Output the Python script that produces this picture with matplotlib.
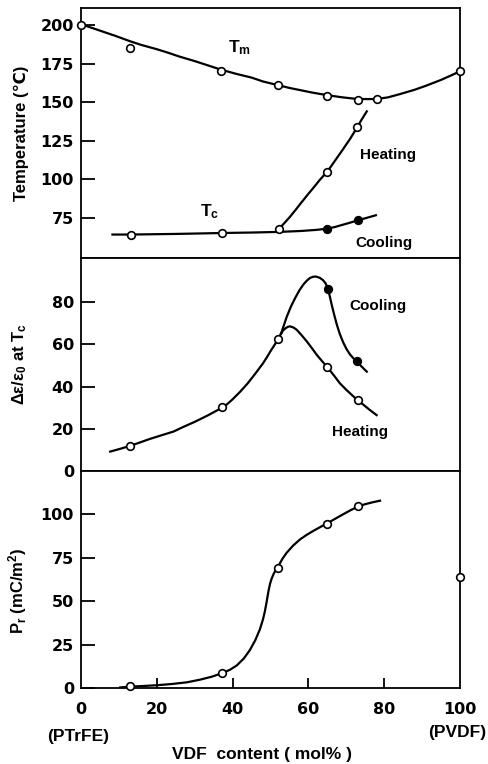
import matplotlib
matplotlib.use('Agg')
import matplotlib.pyplot as plt

plt.rcParams['font.family'] = ['Liberation Sans', 'DejaVu Sans']
plt.rcParams['font.weight'] = 'bold'
plt.rcParams['mathtext.fontset'] = 'custom'
plt.rcParams['mathtext.rm'] = 'Liberation Sans:bold'
plt.rcParams['mathtext.it'] = 'Liberation Sans:bold:italic'
plt.rcParams['mathtext.bf'] = 'Liberation Sans:bold'

# ---- top panel: transition temperatures ----
tm_x = [0, 12.9, 37, 52, 65, 73, 78, 100]
tm_y = [200, 185, 170, 161, 154, 151.5, 152, 170]
tm_line_x = [0, 3, 6, 9, 12.9, 16, 20, 23, 26, 30, 33, 37, 41, 45, 48, 52, 55, 58, 61, 65,
             69, 73, 78, 81, 84, 88, 91, 95, 98, 100]
tm_line_y = [200.5, 198, 195.5, 193, 189.5, 187, 184.3, 182, 179.5, 176.6, 174.2, 171, 168.3,
             165.9, 163.4, 161, 159.2, 157.7, 156.2, 154.5, 153.1, 152, 152, 153.1, 155.1, 158,
             160.6, 164.4, 167.7, 170]

tc_heat_x = [13.1, 37.3, 52.2, 65, 72.9]
tc_heat_y = [64.2, 65.3, 67.8, 105, 133.8]
tc_cool_x = [65, 73]
tc_cool_y = [68, 73.4]
tc_low_x = [8.3, 13.1, 25, 37.3, 45, 52.2, 58, 62, 65, 67, 69, 71, 73, 75.5, 77.8]
tc_low_y = [64.2, 64.2, 64.6, 65.2, 65.5, 65.9, 66.5, 67.2, 68, 69.1, 70.5, 71.9, 73.4, 75.1, 76.7]
tc_up_x = [52.2, 53.5, 55, 56.5, 58, 60, 61.5, 63, 65, 67, 69, 71, 72.9, 74, 75.4]
tc_up_y = [67.8, 71.2, 75.3, 79.8, 84.5, 90.6, 95, 99.6, 105, 112, 119, 126.2, 133.8, 138.5, 144]

# ---- middle panel: dielectric anomaly ----
de_heat_x = [12.9, 37.1, 52.1, 65, 73]
de_heat_y = [11.9, 30.2, 62.4, 49.2, 33.5]
de_cool_x = [65.1, 72.8]
de_cool_y = [86.5, 52.3]
de_low_x = [7.7, 10.3, 12.9, 15.5, 18, 21, 24.4, 27, 30, 33.5, 37.1, 38.5, 40, 42, 44, 46, 48,
            49, 50, 51, 52.1, 52.8]
de_low_y = [9.2, 10.5, 11.9, 13.5, 15.1, 16.8, 18.7, 20.9, 23.3, 26.4, 29.9, 31.6, 34.0, 37.6,
            41.6, 46.2, 51.0, 53.8, 56.8, 59.6, 62.8, 65.2]
de_cline_x = [52.8, 53.4, 54.3, 55.4, 56.5, 57.6, 58.7, 59.6, 60.4, 61.2, 62, 63, 63.8, 64.5,
              65.1, 65.6, 66.1, 66.8, 67.5, 68.3, 69.2, 70.1, 71, 71.9, 72.7, 74, 75.4]
de_cline_y = [65.2, 68.4, 73.2, 78.0, 82.0, 85.6, 88.5, 90.3, 91.5, 92.1, 92.2, 91.6, 90.6, 89.1,
              86.7, 83.2, 79.2, 74.1, 69.4, 64.9, 60.9, 57.7, 55.2, 53.4, 52, 49.6, 47.1]
de_hline_x = [52.8, 53.3, 53.9, 54.5, 55.1, 56, 56.9, 58.2, 59.6, 60.9, 62.2, 63.6, 65.1, 66.7,
              68.3, 70, 71.5, 72.9, 74.6, 76.3, 78]
de_hline_y = [65.2, 66.6, 67.6, 68.3, 68.6, 68.1, 67, 64.4, 61.4, 58.3, 55.1, 52.1, 49, 45.4,
              41.6, 38.5, 36, 33.7, 31.3, 28.8, 26.5]

# ---- bottom panel: remanent polarization ----
pr_x = [12.9, 37.2, 52.1, 65, 73.2, 100]
pr_y = [1.2, 8.8, 69.3, 94.5, 104.8, 64]
pr_line_x = [10.3, 12.9, 16, 20, 24, 28, 31.4, 34.5, 37.2, 39.3, 41.1, 43, 44.6, 46, 47.2, 48,
             48.5, 48.9, 49.2, 49.5, 49.9, 50.3, 50.8, 51.4, 52.1, 53.2, 54.3, 56, 57.8, 59.6,
             61.3, 63.2, 65, 67, 69.2, 71.2, 73.2, 75, 77, 78.9]
pr_line_y = [0.3, 0.8, 1.1, 1.6, 2.3, 3.3, 4.8, 6.5, 8.5, 10.5, 13.0, 17.1, 22.0, 27.6, 33.8,
             39.4, 44.0, 48.6, 52.5, 56.2, 60.2, 63.0, 65.6, 68.1, 70.4, 74.6, 78.0, 82.1, 85.6,
             88.3, 90.5, 92.8, 94.9, 97.4, 100.1, 102.5, 104.6, 105.9, 107.0, 107.9]

xticks = [0, 20, 40, 60, 80, 100]

W, H = 489, 764
fig = plt.figure(figsize=(W / 100, H / 100), dpi=100)
L, R = 81, 460


def mkax(top, bot):
    return fig.add_axes([L / W, 1 - bot / H, (R - L) / W, (bot - top) / H])


ax1 = mkax(8, 258)
ax2 = mkax(258, 471)
ax3 = mkax(471, 688)

lw = 1.6
ms = 5.5
open_kw = dict(marker='o', ms=ms, mfc='white', mec='black', mew=1.2, ls='none', zorder=3)
fill_kw = dict(marker='o', ms=ms, mfc='black', mec='black', mew=1.2, ls='none', zorder=3)
tick_font = {'family': 'DejaVu Sans', 'weight': 'bold', 'size': 11.5}
lab_size = 12
note_size = 11
lab_x = -0.138

for ax in (ax1, ax2, ax3):
    ax.set_xlim(0, 100)
    for s in ax.spines.values():
        s.set_linewidth(1.3)
    ax.tick_params(axis='y', direction='in', length=10, width=1.3, pad=5)
    ax.set_xticks([])

# top
ax1.plot(tm_line_x, tm_line_y, color='black', lw=lw, clip_on=False)
ax1.plot(tm_x, tm_y, clip_on=False, **open_kw)
ax1.plot(tc_low_x, tc_low_y, color='black', lw=lw)
ax1.plot(tc_up_x, tc_up_y, color='black', lw=lw)
ax1.plot(tc_heat_x, tc_heat_y, **open_kw)
ax1.plot(tc_cool_x, tc_cool_y, **fill_kw)
ax1.set_ylim(49, 211)
ax1.set_yticks([75, 100, 125, 150, 175, 200])
ax1.set_ylabel('Temperature (\u2103)', fontsize=lab_size, fontweight='bold')
ax1.yaxis.set_label_coords(lab_x, 0.5)
ax1.text(38.8, 185, r'T$_\mathrm{m}$', fontsize=12.5, va='center', ha='left')
ax1.text(31.4, 79, r'T$_\mathrm{c}$', fontsize=12.5, va='center', ha='left')
ax1.text(73.6, 116, 'Heating', fontsize=note_size, va='center', ha='left')
ax1.text(72.3, 59, 'Cooling', fontsize=note_size, va='center', ha='left')

# middle
ax2.plot(de_low_x, de_low_y, color='black', lw=lw)
ax2.plot(de_cline_x, de_cline_y, color='black', lw=lw)
ax2.plot(de_hline_x, de_hline_y, color='black', lw=lw)
ax2.plot(de_heat_x, de_heat_y, **open_kw)
ax2.plot(de_cool_x, de_cool_y, **fill_kw)
ax2.set_ylim(0, 101)
ax2.set_yticks([0, 20, 40, 60, 80])
ax2.set_ylabel('$\\mathit{\\Delta}$\u03b5/\u03b5$_\\mathrm{0}$ at T$_\\mathrm{c}$',
               fontsize=lab_size, fontweight='bold')
ax2.yaxis.set_label_coords(lab_x, 0.5)
ax2.text(70.8, 78.2, 'Cooling', fontsize=note_size, va='center', ha='left')
ax2.text(66.3, 18.7, 'Heating', fontsize=note_size, va='center', ha='left')

# bottom
ax3.plot(pr_line_x, pr_line_y, color='black', lw=lw)
ax3.plot(pr_x, pr_y, clip_on=False, **open_kw)
ax3.set_ylim(0, 125)
ax3.set_yticks([0, 25, 50, 75, 100])
ax3.set_ylabel(r'P$_\mathrm{r}$ (mC/m$^\mathrm{2}$)', fontsize=lab_size, fontweight='bold')
ax3.yaxis.set_label_coords(lab_x, 0.45)
ax3.set_xticks(xticks)
ax3.tick_params(axis='x', direction='in', length=7, width=1.3, pad=10)
ax3.set_xticklabels([str(v) for v in xticks])
for t in ax3.xaxis.get_major_ticks():
    if t.get_loc() in (0, 100):
        t.tick1line.set_visible(False)

for ax in (ax1, ax2, ax3):
    for lab in ax.get_yticklabels() + ax.get_xticklabels():
        lab.set(**tick_font)

fig.text(78 / W, 1 - 737 / H, '(PTrFE)', fontsize=12.5, ha='center', va='center')
fig.text(457 / W, 1 - 733 / H, '(PVDF)', fontsize=12.5, ha='center', va='center')
fig.text(262 / W, 1 - 755 / H, 'VDF  content ( mol% )', fontsize=12.5, ha='center', va='center')

fig.savefig('out.png', dpi=100)
